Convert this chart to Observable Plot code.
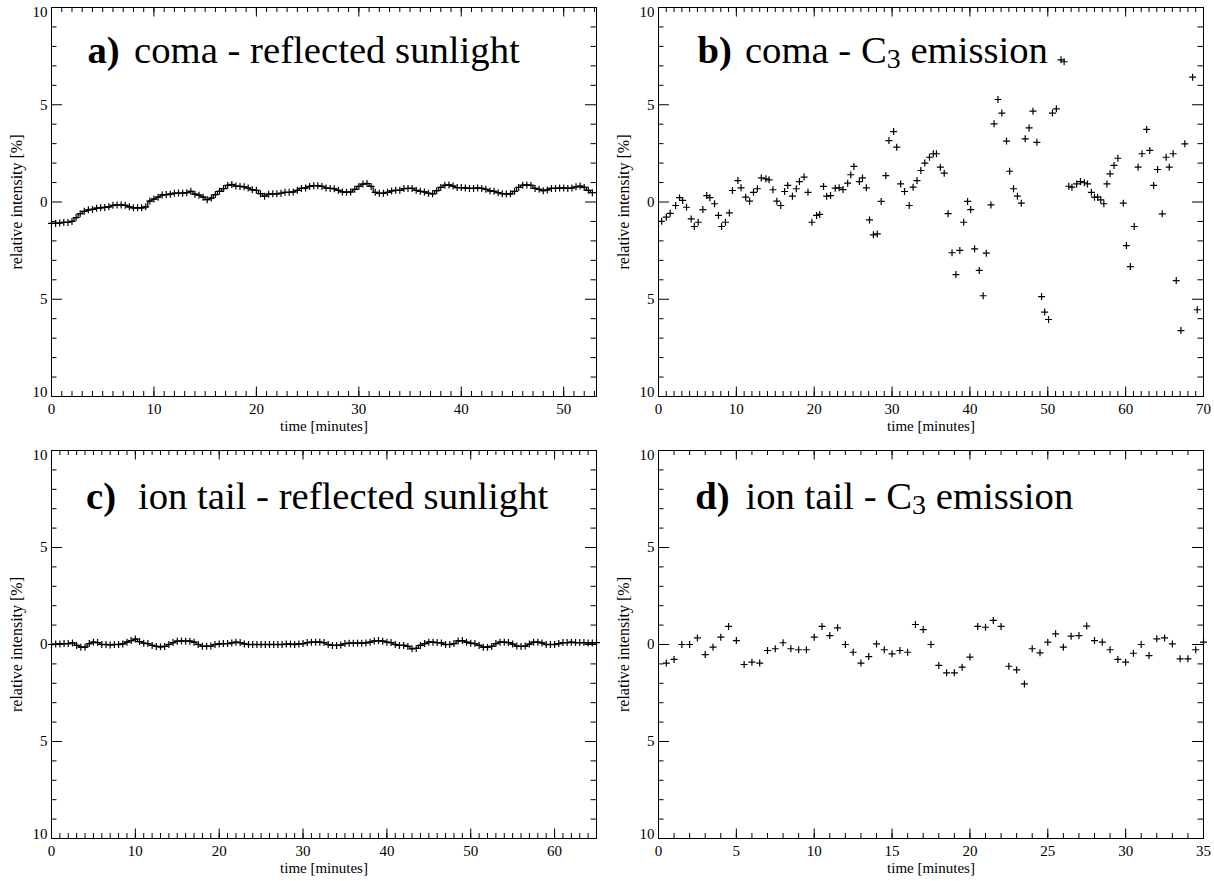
<!DOCTYPE html>
<html><head><meta charset="utf-8">
<script src="https://cdn.jsdelivr.net/npm/d3@7"></script>
<script src="https://cdn.jsdelivr.net/npm/@observablehq/plot@0.6"></script>
<style>
body{margin:0;background:#fff;}
#grid{display:grid;grid-template-columns:607px 607px;width:1214px;}
#grid svg{display:block;}
</style></head><body><div id="grid"></div>
<script>
// ---- tick labels ----
const yTicks = [-10, -5, 0, 5, 10];
const yTickLabels = ["10", "5", "0", "5", "10"];
const yAxisLabel = "relative intensity [%]";
const xAxisLabel = "time [minutes]";

// ---- a) coma - reflected sunlight ----
const timeA = [0,0.4,0.8,1.2,1.6,2,2.4,2.8,3.2,3.6,4,4.4,4.8,5.2,5.6,6,6.4,6.8,7.2,7.6,8,8.4,8.8,9.2,9.6,10,10.4,10.8,11.2,11.6,12,12.4,12.8,13.2,13.6,14,14.4,14.8,15.2,15.6,16,16.4,16.8,17.2,17.6,18,18.4,18.8,19.2,19.6,20,20.4,20.8,21.2,21.6,22,22.4,22.8,23.2,23.6,24,24.4,24.8,25.2,25.6,26,26.4,26.8,27.2,27.6,28,28.4,28.8,29.2,29.6,30,30.4,30.8,31.2,31.6,32,32.4,32.8,33.2,33.6,34,34.4,34.8,35.2,35.6,36,36.4,36.8,37.2,37.6,38,38.4,38.8,39.2,39.6,40,40.4,40.8,41.2,41.6,42,42.4,42.8,43.2,43.6,44,44.4,44.8,45.2,45.6,46,46.4,46.8,47.2,47.6,48,48.4,48.8,49.2,49.6,50,50.4,50.8,51.2,51.6,52,52.4,52.8];
const intensityA = [-1.1,-1.1,-1.08,-1.05,-1.05,-1.0,-0.8,-0.6,-0.48,-0.4,
-0.38,-0.32,-0.3,-0.28,-0.25,-0.17,-0.15,-0.15,-0.17,-0.25,
-0.3,-0.3,-0.3,-0.25,0.05,0.15,0.25,0.36,0.38,0.4,
0.45,0.46,0.45,0.48,0.55,0.4,0.35,0.25,0.12,0.2,
0.38,0.55,0.69,0.85,0.9,0.82,0.8,0.78,0.72,0.63,
0.6,0.43,0.3,0.4,0.42,0.42,0.45,0.5,0.5,0.52,
0.6,0.7,0.72,0.8,0.84,0.84,0.8,0.72,0.7,0.68,
0.6,0.52,0.5,0.52,0.65,0.8,0.92,0.95,0.8,0.5,
0.45,0.45,0.5,0.57,0.6,0.6,0.69,0.7,0.7,0.6,
0.55,0.52,0.45,0.42,0.58,0.75,0.86,0.88,0.82,0.74,
0.74,0.72,0.7,0.7,0.72,0.7,0.65,0.57,0.55,0.48,
0.43,0.42,0.42,0.55,0.75,0.86,0.88,0.85,0.7,0.65,
0.58,0.62,0.7,0.7,0.72,0.72,0.7,0.72,0.78,0.82,
0.75,0.6,0.48];

// ---- b) coma - C3 emission ----
const timeB = [0.4,1.0,1.5,2.2,2.7,3.1,3.6,4.2,4.6,5.1,5.7,6.2,6.6,7.2,7.7,8.1,8.6,9.1,9.5,10.2,10.6,11.2,11.7,12.2,12.7,13.2,13.8,14.2,14.7,15.2,15.7,16.2,16.6,17.2,17.7,18.1,18.7,19.2,19.7,20.3,20.7,21.2,21.6,22.1,22.7,23.2,23.7,24.3,24.7,25.1,25.8,26.2,26.7,27.1,27.6,28.1,28.6,29.2,29.6,30.2,30.6,31.1,31.6,32.2,32.7,33.2,33.7,34.2,34.8,35.3,35.7,36.2,36.7,37.2,37.7,38.2,38.7,39.2,39.7,40.1,40.6,41.2,41.7,42.1,42.7,43.1,43.6,44.1,44.7,45.1,45.6,46.1,46.6,47.1,47.6,48.1,48.6,49.2,49.6,50.1,50.6,51.1,51.7,52.1,52.7,53.1,53.7,54.2,54.7,55.1,55.6,56.0,56.4,56.8,57.2,57.6,58.0,58.5,59.0,59.7,60.1,60.6,61.1,61.6,62.1,62.7,63.1,63.6,64.1,64.7,65.2,65.6,66.1,66.5,67.1,67.6,68.6,69.2];
const intensityB = [-0.99,-0.78,-0.58,-0.18,0.22,0.08,-0.27,-0.87,-1.26,-1.04,-0.39,0.33,0.22,-0.09,-0.69,-1.26,-1.04,-0.56,0.59,1.1,0.73,0.25,0.04,0.5,0.68,1.24,1.19,1.14,0.63,0.04,-0.18,0.54,0.85,0.3,0.68,1.05,1.28,0.5,-1.04,-0.69,-0.64,0.8,0.3,0.33,0.71,0.73,0.64,0.97,1.4,1.83,1.05,1.24,0.73,-0.92,-1.69,-1.64,0.03,1.36,3.16,3.62,2.82,0.93,0.54,-0.18,0.76,1.1,1.62,2.0,2.3,2.48,2.48,1.79,1.48,-0.6,-2.61,-3.73,-2.49,-1.04,0.03,-0.39,-2.41,-3.52,-4.82,-2.63,-0.15,4.02,5.27,4.57,3.13,1.58,0.68,0.3,-0.06,3.25,3.81,4.67,3.07,-4.86,-5.66,-6.04,4.57,4.79,7.31,7.21,0.81,0.76,0.93,1.05,0.99,0.93,0.5,0.25,0.25,0.11,-0.09,0.93,1.45,1.88,2.25,-0.06,-2.24,-3.32,-1.26,1.79,2.48,3.73,2.65,0.85,1.67,-0.61,2.3,1.79,2.48,-4.04,-6.61,2.99,6.42,-5.54];

// ---- c) ion tail - reflected sunlight ----
const timeC = [0,0.5,1,1.5,2,2.5,3,3.5,4,4.5,5,5.5,6,6.5,7,7.5,8,8.5,9,9.5,10,10.5,11,11.5,12,12.5,13,13.5,14,14.5,15,15.5,16,16.5,17,17.5,18,18.5,19,19.5,20,20.5,21,21.5,22,22.5,23,23.5,24,24.5,25,25.5,26,26.5,27,27.5,28,28.5,29,29.5,30,30.5,31,31.5,32,32.5,33,33.5,34,34.5,35,35.5,36,36.5,37,37.5,38,38.5,39,39.5,40,40.5,41,41.5,42,42.5,43,43.5,44,44.5,45,45.5,46,46.5,47,47.5,48,48.5,49,49.5,50,50.5,51,51.5,52,52.5,53,53.5,54,54.5,55,55.5,56,56.5,57,57.5,58,58.5,59,59.5,60,60.5,61,61.5,62,62.5,63,63.5,64,64.5,65];
const intensityC = [0,0.02,0.03,0.05,0.05,0.08,-0.05,-0.14,-0.14,0.05,
0.12,0.1,0,0,-0.02,0,0,0.03,0.12,0.2,
0.28,0.15,0.07,0.05,-0.05,-0.1,-0.12,-0.1,0,0.1,
0.17,0.18,0.17,0.17,0.12,0,-0.09,-0.09,-0.08,0,
0.03,0.05,0.05,0.08,0.12,0.1,0.03,0,0,0,
0,0,0,0,0,0,0.02,0.02,0,0.03,
0.05,0.1,0.12,0.12,0.12,0.1,0,-0.05,-0.05,-0.03,
0.05,0.07,0.07,0.07,0.07,0.08,0.12,0.18,0.2,0.17,
0.12,0.1,0,-0.05,-0.05,-0.1,-0.22,-0.2,-0.05,0.05,
0.12,0.12,0.1,0.08,0,0,0.05,0.18,0.2,0.12,
0.07,0.05,-0.05,-0.14,-0.14,-0.1,0.05,0.12,0.12,0.1,
0.02,-0.08,-0.1,-0.08,0.02,0.12,0.12,0.08,0,0,
0,0.05,0.1,0.1,0.12,0.1,0.1,0.1,0.08,0.08,
0.1];

// ---- d) ion tail - C3 emission ----
const timeD = [0.5,1,1.5,2,2.5,3,3.5,4,4.5,5,5.5,6,6.5,7,7.5,8,8.5,9,9.5,10,10.5,11,11.5,12,12.5,13,13.5,14,14.5,15,15.5,16,16.5,17,17.5,18,18.5,19,19.5,20,20.5,21,21.5,22,22.5,23,23.5,24,24.5,25,25.5,26,26.5,27,27.5,28,28.5,29,29.5,30,30.5,31,31.5,32,32.5,33,33.5,34,34.5,35];
const intensityD = [-0.96,-0.77,0,0,0.34,-0.52,-0.14,0.38,0.93,0.2,
-1.03,-0.91,-0.96,-0.31,-0.22,0.09,-0.22,-0.27,-0.27,0.38,
0.93,0.46,0.86,0,-0.4,-0.96,-0.62,0.03,-0.27,-0.48,
-0.31,-0.4,1.03,0.77,0,-1.08,-1.46,-1.46,-1.17,-0.65,
0.93,0.89,1.24,0.93,-1.12,-1.31,-2.03,-0.22,-0.43,0.12,
0.55,-0.14,0.43,0.46,0.95,0.2,0.12,-0.27,-0.77,-0.91,
-0.45,0,-0.57,0.29,0.34,0.03,-0.74,-0.74,-0.27,0.12];

const FONT = "'Liberation Serif','Times New Roman',Times,serif";
const TITLE_SIZE = 38.7, SUB_SIZE = 28;
const cross = {draw(ctx, size) {
  const r = Math.sqrt(size / Math.PI);
  ctx.moveTo(-r, 0); ctx.lineTo(r, 0);
  ctx.moveTo(0, -r); ctx.lineTo(0, r);
}};
const mctx = document.createElement("canvas").getContext("2d");
function textWidth(s, size) { mctx.font = `${size}px 'Liberation Serif'`; return mctx.measureText(s).width; }

function titleMarks(cfg) {
  const T = {fill: "black", textAnchor: "start", lineAnchor: "bottom", frameAnchor: "top-left", text: d => d};
  const out = [
    Plot.text([cfg.tag], {...T, dx: cfg.tagDx, dy: cfg.titleY, fontSize: TITLE_SIZE, fontWeight: "bold"}),
    Plot.text([cfg.main], {...T, dx: cfg.mainDx, dy: cfg.titleY, fontSize: TITLE_SIZE})
  ];
  if (cfg.sub) {
    const sx = cfg.mainDx + textWidth(cfg.main, TITLE_SIZE);
    out.push(Plot.text([cfg.sub], {...T, dx: sx, dy: cfg.titleY + 5, fontSize: SUB_SIZE}));
    const ex = sx + textWidth(cfg.sub, SUB_SIZE) + textWidth(" ", TITLE_SIZE);
    out.push(Plot.text([cfg.rest], {...T, dx: ex, dy: cfg.titleY, fontSize: TITLE_SIZE}));
  }
  return out;
}

function panel(cfg) {
  const W = 607, ML = 51, MR = 11;
  const pw = W - ML - MR, ph = cfg.height - cfg.mt - cfg.mb;
  const data = cfg.time.map((t, i) => ({t, v: cfg.value[i]}));
  const yMinor = d3.range(-9, 10).filter(d => d % 5 !== 0);
  const xMajor = d3.range(0, cfg.xMax + 1e-9, cfg.xStep);
  const xMinor = d3.range(0, cfg.xMax + 1e-9, 1);
  const fmt = d => yTickLabels[yTicks.indexOf(d)];
  const marks = [
    Plot.frame({stroke: "black", strokeWidth: 1}),
    Plot.tickY(yMinor, {y: d => d, insetRight: pw - 5.5, stroke: "black"}),
    Plot.tickY(yMinor, {y: d => d, insetLeft: pw - 5.5, stroke: "black"}),
    Plot.tickY(yTicks, {y: d => d, insetRight: pw - 11, stroke: "black"}),
    Plot.tickY(yTicks, {y: d => d, insetLeft: pw - 11, stroke: "black"}),
    Plot.tickX(xMinor, {x: d => d, insetTop: ph - 5, stroke: "black"}),
    Plot.tickX(xMinor, {x: d => d, insetBottom: ph - 5, stroke: "black"}),
    Plot.tickX(xMajor, {x: d => d, insetTop: ph - 9.5, stroke: "black"}),
    Plot.tickX(xMajor, {x: d => d, insetBottom: ph - 9.5, stroke: "black"}),
    Plot.axisY([-5, 0, 5], {tickSize: 0, tickPadding: 4, tickFormat: fmt, fontSize: 15, label: null, fontFamily: FONT}),
    Plot.axisY([10], {tickSize: 0, tickPadding: 4, tickFormat: fmt, fontSize: 15, label: null, dy: 4.5, fontFamily: FONT}),
    Plot.axisY([-10], {tickSize: 0, tickPadding: 4, tickFormat: fmt, fontSize: 15, label: null, dy: -4, fontFamily: FONT}),
    Plot.axisX(xMajor, {tickSize: 0, tickPadding: 7, fontSize: 15, label: null, fontFamily: FONT}),
    Plot.text([xAxisLabel], {text: d => d, frameAnchor: "bottom", lineAnchor: "bottom", dy: 34.6, fontSize: 15, fill: "black", fontFamily: FONT}),
    Plot.text([yAxisLabel], {text: d => d, frameAnchor: "left", rotate: -90, dx: -30, textAnchor: "middle", lineAnchor: "bottom", fontSize: 16, fill: "black", fontFamily: FONT})
  ];
  if (cfg.line) marks.push(Plot.line(data, {x: "t", y: "v", curve: "step", stroke: "black", strokeWidth: 1.3}));
  marks.push(Plot.dot(data, {x: "t", y: "v", symbol: cross, r: 3.5, stroke: "black", strokeWidth: 1.2, fill: "none"}));
  marks.push(...titleMarks(cfg.title));
  return Plot.plot({
    width: W, height: cfg.height,
    marginLeft: ML, marginRight: MR, marginTop: cfg.mt, marginBottom: cfg.mb,
    style: {fontFamily: FONT, background: "white", color: "black", overflow: "visible"},
    x: {domain: [0, cfg.xMax]},
    y: {domain: [-10, 10]},
    marks
  });
}

const grid = document.getElementById("grid");
grid.append(panel({time: timeA, value: intensityA, xMax: 53.2, xStep: 10, height: 440, mt: 7, mb: 44, line: true,
  title: {tag: "a)", tagDx: 36, main: "coma - reflected sunlight", mainDx: 82.6, titleY: 55}}));
grid.append(panel({time: timeB, value: intensityB, xMax: 70, xStep: 10, height: 440, mt: 7, mb: 44, line: false,
  title: {tag: "b)", tagDx: 39, main: "coma - C", mainDx: 86.4, sub: "3", rest: "emission", titleY: 55}}));
grid.append(panel({time: timeC, value: intensityC, xMax: 65, xStep: 10, height: 441, mt: 10, mb: 43, line: true,
  title: {tag: "c)", tagDx: 34.6, main: "ion tail - reflected sunlight", mainDx: 86.4, titleY: 58}}));
grid.append(panel({time: timeD, value: intensityD, xMax: 35, xStep: 5, height: 441, mt: 10, mb: 43, line: false,
  title: {tag: "d)", tagDx: 36.8, main: "ion tail - C", mainDx: 87, sub: "3", rest: "emission", titleY: 58}}));
</script></body></html>
